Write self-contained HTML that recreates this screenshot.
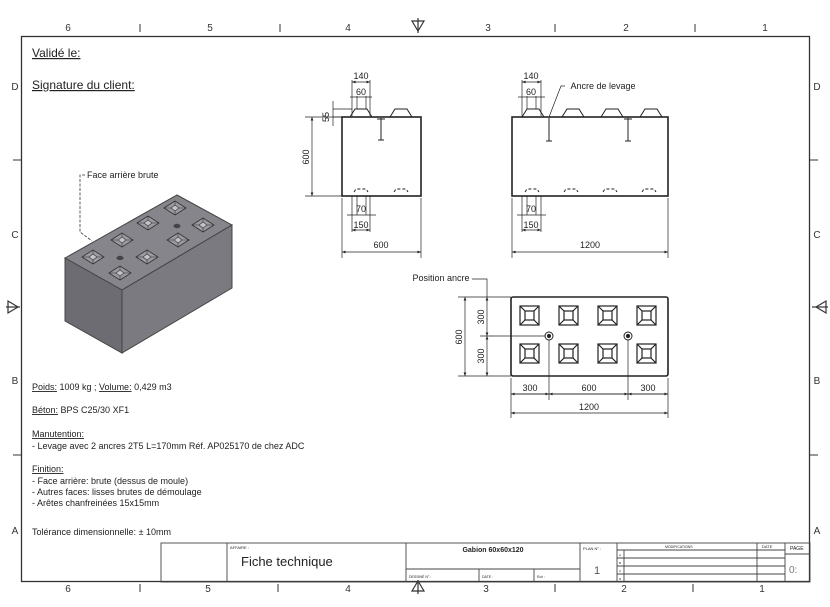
<!DOCTYPE html>
<html><head><meta charset="utf-8"><style>
html,body{margin:0;padding:0;background:#fff;}
svg{display:block;font-family:"Liberation Sans",sans-serif;}
</style></head><body>
<svg width="830" height="607" viewBox="0 0 830 607" xmlns="http://www.w3.org/2000/svg">
<defs>
<marker id="a" viewBox="0 0 10 10" refX="10" refY="5" markerWidth="5" markerHeight="5" orient="auto-start-reverse"><path d="M0,1 L10,5 L0,9z" fill="#222"/></marker>
<g id="p"><polygon points="-11,0 0,-7 11,0 0,7" fill="#9a9aa0" stroke="#333" stroke-width="0.8"/><polygon points="-4,0 0,-3 4,0 0,3" fill="#c4c4c8" stroke="#333" stroke-width="0.6"/><path d="M-11,0 L-4,0 M11,0 L4,0 M0,-7 L0,-3 M0,7 L0,3" stroke="#333" stroke-width="0.6"/></g>
</defs>
<rect width="830" height="607" fill="#fff"/>
<rect x="21.5" y="36.5" width="788" height="545" fill="none" stroke="#333" stroke-width="1.3"/>
<g font-size="10" fill="#333" text-anchor="middle">
<text x="68" y="31">6</text><text x="210" y="31">5</text><text x="348" y="31">4</text><text x="488" y="31">3</text><text x="626" y="31">2</text><text x="765" y="31">1</text>
<text x="68" y="592">6</text><text x="208" y="592">5</text><text x="348" y="592">4</text><text x="486" y="592">3</text><text x="624" y="592">2</text><text x="762" y="592">1</text>
<text x="15" y="90">D</text><text x="15" y="238">C</text><text x="15" y="384">B</text><text x="15" y="534">A</text>
<text x="817" y="90">D</text><text x="817" y="238">C</text><text x="817" y="384">B</text><text x="817" y="534">A</text>
</g>
<g stroke="#333" stroke-width="1">
<line x1="140" y1="24" x2="140" y2="32"/><line x1="280" y1="24" x2="280" y2="32"/><line x1="555" y1="24" x2="555" y2="32"/><line x1="695" y1="24" x2="695" y2="32"/>
<line x1="140" y1="584" x2="140" y2="592"/><line x1="278" y1="584" x2="278" y2="592"/><line x1="555" y1="584" x2="555" y2="592"/><line x1="693" y1="584" x2="693" y2="592"/>
<line x1="13" y1="160" x2="21" y2="160"/><line x1="13" y1="455" x2="21" y2="455"/><line x1="810" y1="160" x2="818" y2="160"/><line x1="810" y1="455" x2="818" y2="455"/>
</g>
<g fill="none" stroke="#333" stroke-width="1.2">
<path d="M412,21 L424,21 L418,31z"/><line x1="418" y1="18" x2="418" y2="33"/>
<path d="M412,591 L424,591 L418,581z"/><line x1="418" y1="580" x2="418" y2="594"/>
<path d="M8,301 L8,313 L18,307z"/><line x1="6" y1="307" x2="20" y2="307"/>
<path d="M826,301 L826,313 L816,307z"/><line x1="812" y1="307" x2="828" y2="307"/>
</g>
<g font-size="12" fill="#222" text-decoration="underline">
<text x="32" y="57">Validé le:</text>
<text x="32" y="89">Signature du client:</text>
</g>
<!-- iso block -->
<polygon points="65,258 177,195 232,225 122,290" fill="#85858b" stroke="#444"/>
<polygon points="65,258 122,290 122,353 65,321" fill="#6c6c72" stroke="#444"/>
<polygon points="122,290 232,225 232,288 122,353" fill="#7a7a80" stroke="#444"/>
<use href="#p" x="93" y="257"/><use href="#p" x="120" y="273"/><use href="#p" x="122" y="240"/><use href="#p" x="147" y="257"/>
<use href="#p" x="148" y="223"/><use href="#p" x="178" y="240"/><use href="#p" x="175" y="208"/><use href="#p" x="203" y="225"/>
<ellipse cx="120" cy="258" rx="3.5" ry="2.2" fill="#444"/><ellipse cx="177" cy="226" rx="3.5" ry="2.2" fill="#444"/>
<text x="87" y="178" font-size="9" fill="#222">Face arrière brute</text>
<polyline points="85,175 80,175 80,232 92,241" fill="none" stroke="#333" stroke-width="0.8" stroke-dasharray="3,1.5"/>
<!-- side view 1 -->
<g fill="none" stroke="#222" stroke-width="1">
<rect x="342" y="117" width="79" height="79" stroke-width="1.6"/>
<path d="M350,117 L355,109 L367,109 L372,117 M390,117 L395,109 L407,109 L412,117"/>
<line x1="381" y1="118" x2="381" y2="140"/><line x1="378" y1="140" x2="384" y2="140"/><line x1="377" y1="119" x2="385" y2="119"/>
<path d="M354,192 l2,-3 h10 l2,3 M394,192 l2,-3 h10 l2,3" stroke-dasharray="3,2"/>
<g stroke-width="0.7">
<line x1="352" y1="80" x2="352" y2="116"/><line x1="370" y1="80" x2="370" y2="116"/>
<line x1="357" y1="96" x2="357" y2="109"/><line x1="366" y1="96" x2="366" y2="109"/>
<line x1="352" y1="82" x2="370" y2="82" marker-start="url(#a)" marker-end="url(#a)"/>
<line x1="350" y1="97" x2="372" y2="97"/>
<line x1="333" y1="109" x2="352" y2="109"/><line x1="333" y1="117" x2="342" y2="117"/>
<line x1="333" y1="101" x2="333" y2="126"/>
<line x1="305" y1="117" x2="342" y2="117"/><line x1="305" y1="196" x2="342" y2="196"/>
<line x1="312" y1="117" x2="312" y2="196" marker-start="url(#a)" marker-end="url(#a)"/>
<line x1="352" y1="196" x2="352" y2="232"/><line x1="370" y1="196" x2="370" y2="232"/>
<line x1="357" y1="196" x2="357" y2="215"/><line x1="366" y1="196" x2="366" y2="215"/>
<line x1="347" y1="215" x2="376" y2="215"/>
<line x1="352" y1="230" x2="370" y2="230" marker-start="url(#a)" marker-end="url(#a)"/>
<line x1="342" y1="198" x2="342" y2="258"/><line x1="421" y1="198" x2="421" y2="258"/>
<line x1="342" y1="252" x2="421" y2="252" marker-start="url(#a)" marker-end="url(#a)"/>
</g>
</g>
<!-- side view 2 -->
<g fill="none" stroke="#222" stroke-width="1">
<rect x="512" y="117" width="156" height="79" stroke-width="1.6"/>
<path d="M522,117 l5,-8 h12 l5,8 M562,117 l5,-8 h12 l5,8 M601,117 l5,-8 h12 l5,8 M640,117 l5,-8 h12 l5,8"/>
<line x1="549" y1="118" x2="549" y2="141"/><line x1="546" y1="141" x2="552" y2="141"/>
<line x1="628" y1="118" x2="628" y2="141"/><line x1="625" y1="141" x2="631" y2="141"/><line x1="624" y1="119" x2="632" y2="119"/>
<path d="M525,192 l2,-3 h10 l2,3 M564,192 l2,-3 h10 l2,3 M603,192 l2,-3 h10 l2,3 M642,192 l2,-3 h10 l2,3" stroke-dasharray="3,2"/>
<g stroke-width="0.7">
<line x1="522" y1="80" x2="522" y2="116"/><line x1="541" y1="80" x2="541" y2="116"/>
<line x1="527" y1="96" x2="527" y2="109"/><line x1="536" y1="96" x2="536" y2="109"/>
<line x1="522" y1="82" x2="541" y2="82" marker-start="url(#a)" marker-end="url(#a)"/>
<line x1="518" y1="97" x2="545" y2="97"/>
<polyline points="565,86 561,86 549,117"/>
<line x1="522" y1="196" x2="522" y2="232"/><line x1="541" y1="196" x2="541" y2="232"/>
<line x1="527" y1="196" x2="527" y2="215"/><line x1="536" y1="196" x2="536" y2="215"/>
<line x1="517" y1="215" x2="546" y2="215"/>
<line x1="522" y1="230" x2="541" y2="230" marker-start="url(#a)" marker-end="url(#a)"/>
<line x1="512" y1="198" x2="512" y2="258"/><line x1="668" y1="198" x2="668" y2="258"/>
<line x1="512" y1="252" x2="668" y2="252" marker-start="url(#a)" marker-end="url(#a)"/>
</g>
</g>
<g font-size="9" fill="#222" text-anchor="middle">
<text x="361" y="79">140</text><text x="361" y="95">60</text><text x="361" y="212">70</text><text x="361" y="228">150</text><text x="381" y="248">600</text>
<text x="531" y="79">140</text><text x="531" y="95">60</text><text x="531" y="212">70</text><text x="531" y="228">150</text><text x="590" y="248">1200</text>
<text transform="translate(329,117) rotate(-90)">55</text>
<text transform="translate(309,157) rotate(-90)">600</text>
<text x="603" y="89">Ancre de levage</text>
</g>
<!-- plan view -->
<g fill="none" stroke="#222">
<rect x="511" y="297" width="157" height="79" rx="2" stroke-width="1.6"/>
<g stroke-width="1.2">
<g id="s"><rect x="520" y="306" width="19" height="19"/><rect x="525" y="311" width="9" height="9"/><path d="M520,306 l5,5 M539,306 l-5,5 M520,325 l5,-5 M539,325 l-5,-5"/></g>
<use href="#s" x="39"/><use href="#s" x="78"/><use href="#s" x="117"/>
<use href="#s" y="38"/><use href="#s" x="39" y="38"/><use href="#s" x="78" y="38"/><use href="#s" x="117" y="38"/>
</g>
<circle cx="549" cy="336" r="4"/><circle cx="549" cy="336" r="1.6" fill="#222"/>
<circle cx="628" cy="336" r="4"/><circle cx="628" cy="336" r="1.6" fill="#222"/>
<g stroke-width="0.7">
<polyline points="472,279 487,279 487,297"/>
<line x1="480" y1="336" x2="545" y2="336"/>
<line x1="458" y1="297" x2="511" y2="297"/><line x1="458" y1="376" x2="511" y2="376"/>
<line x1="465" y1="297" x2="465" y2="376" marker-start="url(#a)" marker-end="url(#a)"/>
<line x1="487" y1="297" x2="487" y2="336" marker-start="url(#a)" marker-end="url(#a)"/>
<line x1="487" y1="336" x2="487" y2="376" marker-start="url(#a)" marker-end="url(#a)"/>
<line x1="511" y1="378" x2="511" y2="418"/><line x1="668" y1="378" x2="668" y2="418"/>
<line x1="549" y1="340" x2="549" y2="400"/><line x1="628" y1="340" x2="628" y2="400"/>
<line x1="511" y1="394" x2="668" y2="394"/>
<line x1="511" y1="394" x2="549" y2="394" marker-start="url(#a)" marker-end="url(#a)"/>
<line x1="549" y1="394" x2="628" y2="394" marker-start="url(#a)" marker-end="url(#a)"/>
<line x1="628" y1="394" x2="668" y2="394" marker-start="url(#a)" marker-end="url(#a)"/>
<line x1="511" y1="413" x2="668" y2="413" marker-start="url(#a)" marker-end="url(#a)"/>
</g>
</g>
<g font-size="9" fill="#222" text-anchor="middle">
<text x="441" y="281">Position ancre</text>
<text x="530" y="391">300</text><text x="589" y="391">600</text><text x="648" y="391">300</text><text x="589" y="410">1200</text>
<text transform="translate(462,337) rotate(-90)">600</text>
<text transform="translate(484,317) rotate(-90)">300</text>
<text transform="translate(484,356) rotate(-90)">300</text>
</g>
<g font-size="9" fill="#222">
<text x="32" y="390"><tspan text-decoration="underline">Poids:</tspan> 1009 kg ; <tspan text-decoration="underline">Volume:</tspan> 0,429 m3</text>
<text x="32" y="413"><tspan text-decoration="underline">Béton:</tspan> BPS C25/30 XF1</text>
<text x="32" y="437" text-decoration="underline">Manutention:</text>
<text x="32" y="449">- Levage avec 2 ancres 2T5 L=170mm Réf. AP025170 de chez ADC</text>
<text x="32" y="472" text-decoration="underline">Finition:</text>
<text x="32" y="484">- Face arrière: brute (dessus de moule)</text>
<text x="32" y="495">- Autres faces: lisses brutes de démoulage</text>
<text x="32" y="506">- Arêtes chanfreinées 15x15mm</text>
<text x="32" y="535">Tolérance dimensionnelle: ± 10mm</text>
</g>
<g fill="none" stroke="#444" stroke-width="0.9">
<rect x="161" y="543" width="649" height="39"/>
<line x1="227" y1="543" x2="227" y2="582"/><line x1="406" y1="543" x2="406" y2="582"/>
<line x1="406" y1="569" x2="580" y2="569"/><line x1="479" y1="569" x2="479" y2="582"/><line x1="534" y1="569" x2="534" y2="582"/>
<line x1="580" y1="543" x2="580" y2="582"/><line x1="617" y1="543" x2="617" y2="582"/><line x1="624" y1="550" x2="624" y2="582"/>
<line x1="757" y1="543" x2="757" y2="582"/><line x1="785" y1="543" x2="785" y2="582"/>
<line x1="617" y1="550" x2="785" y2="550"/><line x1="617" y1="558" x2="785" y2="558"/><line x1="617" y1="566" x2="785" y2="566"/><line x1="617" y1="574" x2="785" y2="574"/>
<line x1="785" y1="554" x2="810" y2="554"/>
</g>
<g fill="#222">
<text x="230" y="549" font-size="4">AFFAIRE :</text>
<text x="241" y="566" font-size="13">Fiche technique</text>
<text x="493" y="552" font-size="7" font-weight="bold" text-anchor="middle">Gabion 60x60x120</text>
<text x="409" y="578" font-size="3.5">DESSINÉ N° :</text>
<text x="482" y="578" font-size="3.5">DATE :</text>
<text x="537" y="578" font-size="3.5">Ech :</text>
<text x="583" y="550" font-size="4">PLAN N° :</text>
<text x="594" y="574" font-size="11" fill="#555">1</text>
<text x="665" y="548" font-size="3.5">MODIFICATIONS</text>
<text x="762" y="548" font-size="4">DATE</text>
<text x="790" y="550" font-size="5">PAGE</text>
<text x="789" y="573" font-size="10" fill="#777">0:</text>
<text x="619" y="556" font-size="3">A</text><text x="619" y="564" font-size="3">B</text><text x="619" y="572" font-size="3">C</text><text x="619" y="580" font-size="3">D</text>
</g>
</svg>
</body></html>
